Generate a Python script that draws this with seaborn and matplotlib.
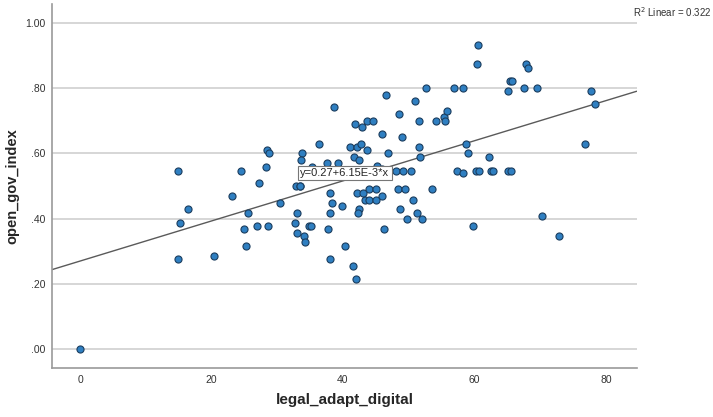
import numpy as np
import pandas as pd
import matplotlib
matplotlib.use("Agg")
import matplotlib.pyplot as plt
import seaborn as sns

# values
legal_adapt_digital = [
    0.0, 14.9, 14.9, 15.2, 16.5, 20.4, 23.1, 24.5, 25.0, 25.3,
    25.6, 26.9, 27.2, 28.3, 28.5, 28.8, 28.6, 30.4, 32.9, 33.4,
    33.0, 32.7, 33.0, 34.1, 34.2, 34.9, 35.1, 33.7, 33.6, 35.3,
    36.3, 35.9, 37.6, 39.4, 37.5, 39.2, 37.8, 38.1, 38.4, 38.1,
    39.8, 40.3, 38.1, 41.6, 42.0, 42.1, 42.4, 42.3, 43.3, 44.0,
    45.1, 44.0, 46.0, 38.7, 41.9, 42.9, 43.6, 44.5, 46.0, 41.1,
    42.1, 42.7, 43.6, 41.7, 42.4, 45.2, 44.0, 44.8, 45.9, 46.5,
    48.5, 49.0, 46.8, 51.6, 51.8, 51.0, 51.6, 52.6, 54.2, 55.4,
    55.5, 55.9, 56.9, 58.3, 58.7, 59.1, 60.4, 60.6, 62.2, 65.1,
    65.4, 65.7, 67.5, 67.9, 68.1, 69.5, 77.7, 78.3, 76.8, 48.0,
    49.1, 50.3, 57.3, 58.3, 60.2, 60.7, 62.6, 62.9, 65.1, 65.6,
    48.4, 49.5, 53.5, 50.7, 48.7, 51.2, 49.8, 52.0, 70.3, 59.8,
    72.8, 46.2, 43.0, 45.0, 33.5,
]
open_gov_index = [
    0.000, 0.546, 0.277, 0.388, 0.429, 0.287, 0.469, 0.546, 0.367, 0.317,
    0.418, 0.377, 0.509, 0.560, 0.610, 0.600, 0.377, 0.448, 0.499, 0.499,
    0.418, 0.388, 0.357, 0.348, 0.327, 0.377, 0.377, 0.600, 0.580, 0.560,
    0.630, 0.545, 0.545, 0.545, 0.570, 0.570, 0.367, 0.479, 0.448, 0.418,
    0.439, 0.317, 0.277, 0.256, 0.216, 0.479, 0.429, 0.418, 0.458, 0.458,
    0.458, 0.490, 0.469, 0.742, 0.691, 0.681, 0.700, 0.700, 0.660, 0.620,
    0.620, 0.630, 0.610, 0.590, 0.580, 0.562, 0.546, 0.546, 0.552, 0.780,
    0.720, 0.650, 0.600, 0.620, 0.590, 0.762, 0.700, 0.800, 0.700, 0.712,
    0.700, 0.731, 0.800, 0.800, 0.630, 0.600, 0.873, 0.933, 0.590, 0.793,
    0.822, 0.822, 0.800, 0.873, 0.862, 0.800, 0.793, 0.752, 0.630, 0.546,
    0.546, 0.546, 0.546, 0.540, 0.546, 0.546, 0.546, 0.546, 0.546, 0.546,
    0.490, 0.490, 0.490, 0.458, 0.429, 0.418, 0.398, 0.398, 0.408, 0.377,
    0.348, 0.367, 0.479, 0.490, 0.500,
]
intercept = 0.27
slope = 6.15e-3
r_squared = 0.322

x_ticks = [0, 20, 40, 60, 80]
y_ticks = [0.0, 0.2, 0.4, 0.6, 0.8, 1.0]
y_tick_labels = [".00", ".20", ".40", ".60", ".80", "1.00"]

df = pd.DataFrame({"legal_adapt_digital": legal_adapt_digital,
                   "open_gov_index": open_gov_index})

sns.set_style("white")
plt.rcParams["font.family"] = ["Liberation Sans", "DejaVu Sans"]

fig = plt.figure(figsize=(7.13, 4.17), dpi=100)
ax = fig.add_axes([0.073, 0.1175, 0.82, 0.8725])

# 横向网格线
for yv in y_ticks:
    ax.axhline(yv, color="#d6d6d6", lw=1.4, zorder=0)

sns.scatterplot(data=df, x="legal_adapt_digital", y="open_gov_index", ax=ax,
                s=26, color="#2f7fc1", edgecolor="#1b3d5e", linewidth=0.8,
                zorder=3)

ax.axline((0, intercept), slope=slope, color="#5a5a5a", lw=1.0, zorder=2)

ax.set_xlim(-4.26, 84.7)
ax.set_ylim(-0.058, 1.058)
ax.set_xticks(x_ticks)
ax.set_yticks(y_ticks)
ax.set_yticklabels(y_tick_labels)
ax.tick_params(axis="both", length=0, labelsize=7.5, colors="#333333")
ax.tick_params(axis="x", pad=5)
ax.tick_params(axis="y", pad=5)

for side in ["top", "right"]:
    ax.spines[side].set_visible(False)
for side in ["left", "bottom"]:
    ax.spines[side].set_color("#9a9a9a")
    ax.spines[side].set_linewidth(1.2)

ax.set_xlabel("legal_adapt_digital", fontsize=11, fontweight="bold", labelpad=6)
ax.set_ylabel("open_gov_index", fontsize=10.5, fontweight="bold", labelpad=4)

eq = f"y={intercept:.2f}+{slope * 1000:.2f}E-3*x"
ax.text(33.5, 0.54, eq, fontsize=8, va="center", ha="left", zorder=5,
        bbox=dict(boxstyle="square,pad=0.2", fc="white", ec="#777777", lw=0.8))

fig.text(0.998, 0.972, f"R$^2$ Linear = {r_squared:.3f}", fontsize=7,
         ha="right", va="center", color="#333333")

fig.savefig("out.png", dpi=100)
